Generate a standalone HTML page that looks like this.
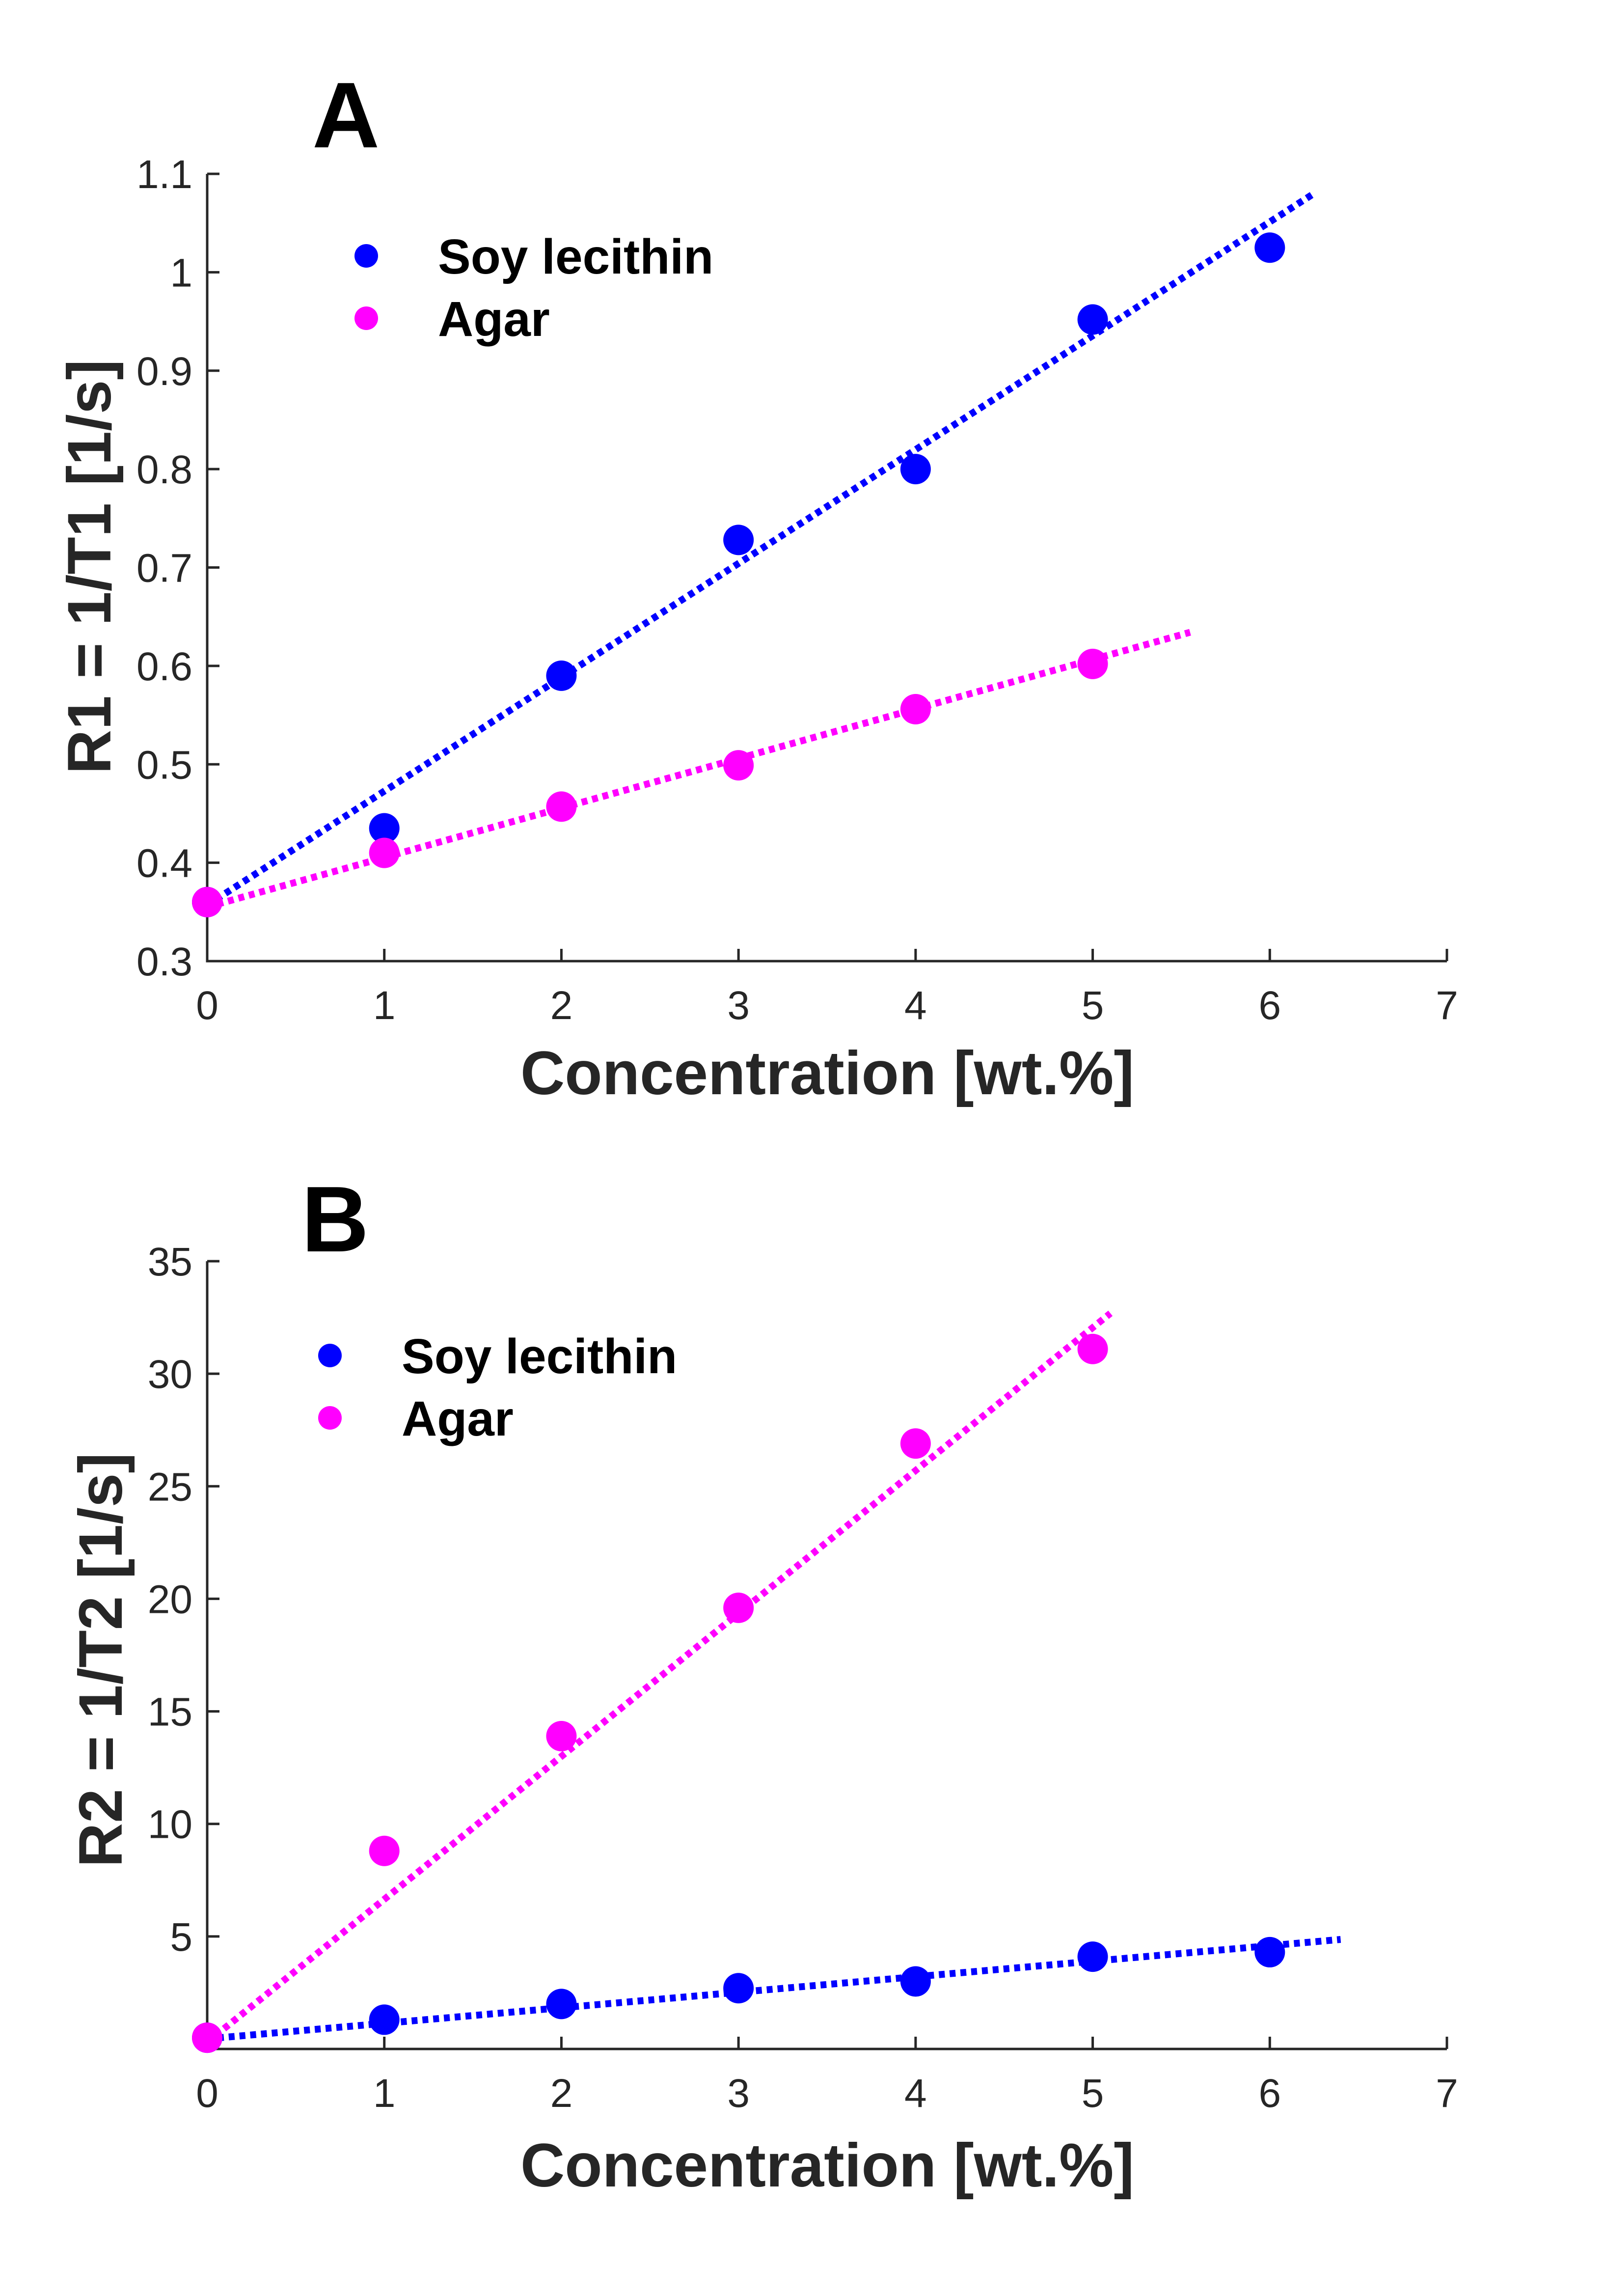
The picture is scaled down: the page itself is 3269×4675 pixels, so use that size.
<!DOCTYPE html>
<html><head><meta charset="utf-8"><style>
html,body{margin:0;padding:0;background:#fff}
svg{display:block}
text{font-family:"Liberation Sans",Arial,sans-serif}
</style></head><body>
<svg id="fig" width="3269" height="4675" viewBox="0 0 3269 4675" xmlns="http://www.w3.org/2000/svg">
<rect width="3269" height="4675" fill="#fff"/>
</svg>
<script>
const xCats = [0,1,2,3,4,5,6];
const xTicks = [0,1,2,3,4,5,6,7];
const aSoy = [0.36,0.435,0.59,0.728,0.80,0.952,1.025];
const aAgar = [0.36,0.41,0.457,0.499,0.556,0.602];
const aSoyFit = [0.357,0.1157,6.25];   // intercept, slope, xEnd
const aAgarFit = [0.355,0.0503,5.55];
const aYTicks = [0.3,0.4,0.5,0.6,0.7,0.8,0.9,1,1.1];
const aYLabels = ["0.3","0.4","0.5","0.6","0.7","0.8","0.9","1","1.1"];
const bSoy = [0.5,1.3,2.0,2.7,3.0,4.1,4.3];
const bAgar = [0.5,8.8,13.9,19.6,26.9,31.1];
const bSoyFit = [0.45,0.69,6.4];
const bAgarFit = [0.3,6.35,5.1];
const bYTicks = [5,10,15,20,25,30,35];
const bYLabels = ["5","10","15","20","25","30","35"];

const NS="http://www.w3.org/2000/svg";
const svg=document.getElementById('fig');
function mk(tag,attrs,parent){const e=document.createElementNS(NS,tag);for(const k in attrs)e.setAttribute(k,attrs[k]);(parent||svg).appendChild(e);return e;}
const BLUE="#0000ff", MAG="#ff00ff", AX="#262626";

function panel(cfg){
  const g=mk('g',{});
  
  
  const X0=422,X1=2947;
  const sx=v=>X0+(v-0)/(7-0)*(X1-X0);
  const sy=v=>cfg.yBot+(v-cfg.yMin)/(cfg.yMax-cfg.yMin)*(cfg.yTop-cfg.yBot);
  const ax=mk('path',{d:`M${X0},${cfg.yTop}V${cfg.yBot}H${X1}`,stroke:AX,'stroke-width':5,fill:'none'},g);
  
  
  xTicks.forEach(t=>{
    const x=sx(t);
    const tk=mk('line',{x1:x,x2:x,y1:cfg.yBot,y2:cfg.yBot-25,stroke:AX,'stroke-width':5},g);
    
    
    const tl=mk('text',{x:x,y:cfg.yBot+118,'font-size':82,fill:AX,'text-anchor':'middle'},g);
    tl.textContent=String(t);
    
    
  });
  cfg.yTicks.forEach((t,i)=>{
    const y=sy(t);
    const tk=mk('line',{x1:X0,x2:X0+25,y1:y,y2:y,stroke:AX,'stroke-width':5},g);
    
    
    const tl=mk('text',{x:392,y:y+29,'font-size':82,fill:AX,'text-anchor':'end'},g);
    tl.textContent=cfg.yLabels[i];
    
    
  });
  cfg.fits.forEach(f=>{
    const [b,m,xe]=f.p;
    const ln=mk('line',{x1:sx(0),y1:sy(b),x2:sx(xe),y2:sy(b+m*xe),stroke:f.c,'stroke-width':14,'stroke-dasharray':'12 10'},g);
    
    
  });
  cfg.series.forEach(s=>{
    s.v.forEach((v,i)=>{
      const c=mk('circle',{cx:sx(xCats[i]),cy:sy(v),r:31,fill:s.c},g);
      
      
    });
  });
  cfg.series.forEach((s,i)=>{
    const y=cfg.legY+i*127;
    const c=mk('circle',{cx:cfg.legX,cy:y,r:24,fill:s.c},g);
    
    
    const t=mk('text',{x:cfg.legX+146,y:y+36,'font-size':100,'font-weight':'bold',fill:'#000'},g);
    t.textContent=s.label;
    
    
  });
  const xt=mk('text',{x:1685,y:cfg.xTitleY,'font-size':125,'font-weight':'bold',fill:AX,'text-anchor':'middle'},g);
  xt.textContent='Concentration [wt.%]';
  
  
  const yt=mk('text',{x:0,y:0,'font-size':125,'font-weight':'bold',fill:AX,'text-anchor':'middle',transform:`translate(${cfg.yTitleX},${cfg.yTitleY}) rotate(-90)`},g);
  yt.textContent=cfg.yTitle;
  
  
  const pl=mk('text',{x:cfg.letX,y:cfg.letY,'font-size':190,'font-weight':'bold',fill:'#000'},g);
  pl.textContent=cfg.letter;
  
  
}

panel({name:'panel-a',yMin:0.3,yMax:1.1,yTop:354,yBot:1957,yTicks:aYTicks,yLabels:aYLabels,
  fits:[{p:aSoyFit,c:BLUE,n:'soy-fit-line'},{p:aAgarFit,c:MAG,n:'agar-fit-line'}],
  series:[{v:aSoy,c:BLUE,n:'soy',label:'Soy lecithin'},{v:aAgar,c:MAG,n:'agar',label:'Agar'}],
  legX:746,legY:521,xTitleY:2228,yTitleX:225,yTitleY:1154,yTitle:'R1 = 1/T1 [1/s]',letter:'A',letX:636,letY:300});
panel({name:'panel-b',yMin:0,yMax:35,yTop:2568,yBot:4172,yTicks:bYTicks,yLabels:bYLabels,
  fits:[{p:bAgarFit,c:MAG,n:'agar-fit-line'},{p:bSoyFit,c:BLUE,n:'soy-fit-line'}],
  series:[{v:bSoy,c:BLUE,n:'soy',label:'Soy lecithin'},{v:bAgar,c:MAG,n:'agar',label:'Agar'}],
  legX:672,legY:2760,xTitleY:4452,yTitleX:248,yTitleY:3380,yTitle:'R2 = 1/T2 [1/s]',letter:'B',letX:614,letY:2548});
</script>
</body></html>
